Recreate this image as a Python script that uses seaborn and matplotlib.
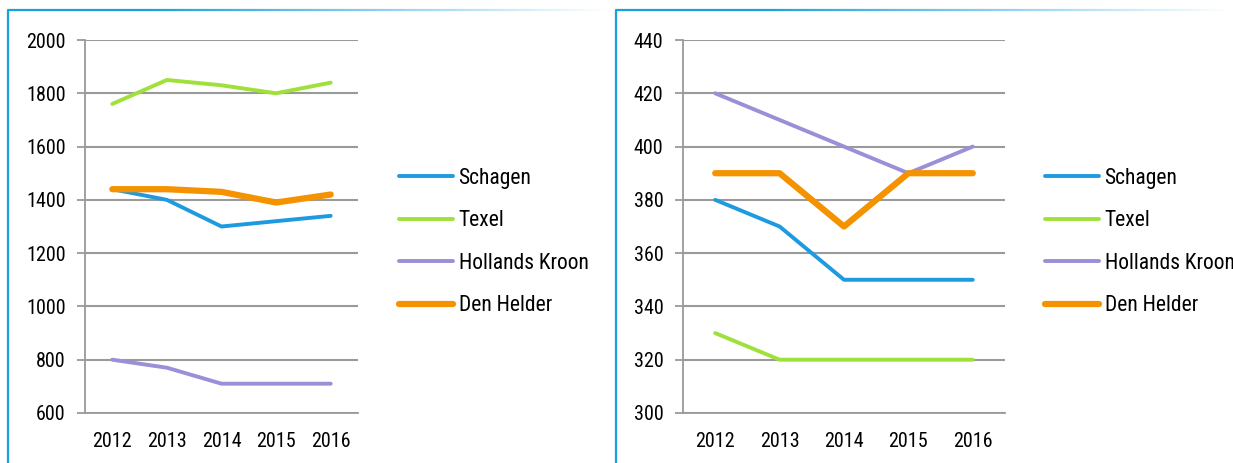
import numpy as np
import pandas as pd
import matplotlib
matplotlib.use("Agg")
import matplotlib.pyplot as plt
import seaborn as sns
from matplotlib.collections import LineCollection

# data
years = ["2012", "2013", "2014", "2015", "2016"]
names = ["Schagen", "Texel", "Hollands Kroon", "Den Helder"]
colors = ["#1e9be0", "#9fe03a", "#9b8fd8", "#f59200"]
widths = [2.8, 2.8, 2.8, 4.5]

left_schagen = [1440, 1400, 1300, 1320, 1340]
left_texel = [1760, 1850, 1830, 1800, 1840]
left_kroon = [800, 770, 710, 710, 710]
left_helder = [1440, 1440, 1430, 1390, 1420]

right_schagen = [380, 370, 350, 350, 350]
right_texel = [330, 320, 320, 320, 320]
right_kroon = [420, 410, 400, 390, 400]
right_helder = [390, 390, 370, 390, 390]

sns.set_style("white")
plt.rcParams["font.family"] = ["Roboto Condensed", "Roboto", "DejaVu Sans"]
plt.rcParams["text.color"] = "black"
plt.rcParams["xtick.labelcolor"] = "black"
plt.rcParams["ytick.labelcolor"] = "black"

fig = plt.figure(figsize=(12.33, 4.63), dpi=100)
W, H = 1233, 463

grey = "#9a9a9a"
fs = 14.5
lfs = 15.5


def panel(rect, series, ylim, step, legend_x):
    ax = fig.add_axes(rect)
    x = np.arange(len(years))
    for vals, name, c, lw in zip(series, names, colors, widths):
        sns.lineplot(x=x, y=vals, ax=ax, color=c, linewidth=lw, label=name,
                     solid_capstyle="round")
    ax.set_xlim(-0.5, len(years) - 0.5)
    ax.set_ylim(*ylim)
    ax.set_yticks(np.arange(ylim[0], ylim[1] + 1, step))
    ax.set_xticks(x)
    ax.set_xticklabels(years)
    ax.set_xticks(np.arange(-0.5, len(years)), minor=True)
    ax.tick_params(axis="x", which="major", length=0, labelsize=fs, pad=14)
    ax.tick_params(axis="x", which="minor", length=6, width=1.3, color=grey,
                   direction="out")
    ax.tick_params(axis="y", length=6, width=1.3, color=grey, labelsize=fs,
                   pad=8, left=True)
    ax.grid(axis="y", color=grey, linewidth=1.5)
    for s in ["top", "right"]:
        ax.spines[s].set_visible(False)
    for s in ["left", "bottom"]:
        ax.spines[s].set_color(grey)
        ax.spines[s].set_linewidth(1.3)
    ax.legend(loc="center left", bbox_to_anchor=(legend_x, 1 - 242 / H),
              bbox_transform=fig.transFigure, frameon=False, fontsize=lfs,
              handlelength=2.5, handletextpad=0.28, labelspacing=1.0,
              borderpad=0)
    return ax


bottom = 1 - 413 / H
height = (413 - 40) / H
panel([85 / W, bottom, 273 / W, height],
      [left_schagen, left_texel, left_kroon, left_helder],
      (600, 2000), 200, 388 / W)
panel([683 / W, bottom, 322 / W, height],
      [right_schagen, right_texel, right_kroon, right_helder],
      (300, 440), 20, 1034 / W)

# blue frame: left edge and fading top edge of each panel
over = fig.add_axes([0, 0, 1, 1], facecolor="none")
over.set_xlim(0, W)
over.set_ylim(H, 0)
over.axis("off")
blue = np.array(matplotlib.colors.to_rgb("#1aa0e0"))
for x0, x1 in [(8, 610), (616, 1233)]:
    over.plot([x0, x0], [10, H], color=blue, linewidth=1.6)
    xs = np.linspace(x0, x1, 200)
    segs = [[(xs[i], 10), (xs[i + 1], 10)] for i in range(len(xs) - 1)]
    t = np.linspace(0, 1, len(segs))
    a = np.clip(1.3 - 1.3 * t, 0, 1)
    cols = [(*blue, ai) for ai in a]
    over.add_collection(LineCollection(segs, colors=cols, linewidths=1.6))

fig.savefig("out.png", dpi=100)
